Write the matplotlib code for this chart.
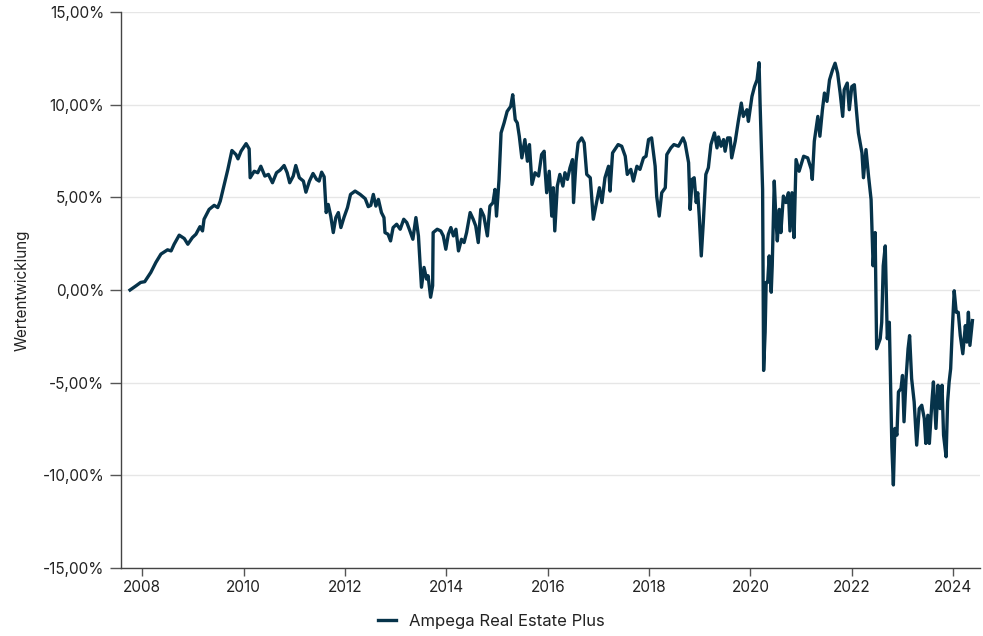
import matplotlib
matplotlib.use("Agg")
import matplotlib.pyplot as plt
from matplotlib.ticker import FuncFormatter

plt.rcParams['font.family'] = ['Inter', 'DejaVu Sans']

# Zeitachse (Dezimaljahre) und Wertentwicklung in %
jahre = [
    2007.76, 2007.88, 2007.97, 2008.05, 2008.17, 2008.27, 2008.37, 2008.50, 2008.57, 2008.63,
    2008.73, 2008.83, 2008.90, 2008.99, 2009.06, 2009.14, 2009.19, 2009.22, 2009.32, 2009.42,
    2009.49, 2009.54, 2009.62, 2009.69, 2009.77, 2009.85, 2009.89, 2009.95, 2010.05, 2010.11,
    2010.13, 2010.21, 2010.28, 2010.34, 2010.42, 2010.49, 2010.57, 2010.65, 2010.72, 2010.80,
    2010.86, 2010.91, 2010.98, 2011.03, 2011.10, 2011.18, 2011.23, 2011.30, 2011.37, 2011.44,
    2011.49, 2011.54, 2011.59, 2011.63, 2011.67, 2011.72, 2011.77, 2011.82, 2011.87, 2011.92,
    2011.98, 2012.05, 2012.11, 2012.20, 2012.30, 2012.40, 2012.46, 2012.51, 2012.56, 2012.61,
    2012.66, 2012.72, 2012.77, 2012.79, 2012.85, 2012.90, 2012.95, 2013.02, 2013.09, 2013.16,
    2013.22, 2013.27, 2013.34, 2013.40, 2013.45, 2013.48, 2013.51, 2013.56, 2013.61, 2013.64,
    2013.69, 2013.73, 2013.74, 2013.82, 2013.89, 2013.94, 2013.99, 2014.04, 2014.09, 2014.14,
    2014.19, 2014.24, 2014.30, 2014.35, 2014.40, 2014.47, 2014.53, 2014.58, 2014.63, 2014.68,
    2014.74, 2014.81, 2014.86, 2014.92, 2014.96, 2014.99, 2015.04, 2015.08, 2015.14, 2015.20,
    2015.27, 2015.31, 2015.36, 2015.40, 2015.44, 2015.49, 2015.55, 2015.60, 2015.64, 2015.69,
    2015.75, 2015.82, 2015.88, 2015.93, 2015.95, 2015.98, 2016.03, 2016.08, 2016.11, 2016.14,
    2016.19, 2016.24, 2016.30, 2016.34, 2016.39, 2016.44, 2016.49, 2016.51, 2016.56, 2016.60,
    2016.67, 2016.72, 2016.77, 2016.84, 2016.90, 2016.95, 2017.02, 2017.07, 2017.13, 2017.20,
    2017.23, 2017.28, 2017.39, 2017.46, 2017.53, 2017.57, 2017.64, 2017.69, 2017.76, 2017.82,
    2017.89, 2017.94, 2017.99, 2018.05, 2018.12, 2018.15, 2018.20, 2018.25, 2018.32, 2018.35,
    2018.43, 2018.49, 2018.58, 2018.67, 2018.71, 2018.78, 2018.81, 2018.85, 2018.89, 2018.93,
    2018.96, 2018.99, 2019.03, 2019.07, 2019.12, 2019.17, 2019.22, 2019.29, 2019.34, 2019.37,
    2019.42, 2019.47, 2019.50, 2019.55, 2019.60, 2019.63, 2019.70, 2019.76, 2019.82, 2019.86,
    2019.93, 2019.96, 2020.03, 2020.08, 2020.13, 2020.17, 2020.19, 2020.21, 2020.24, 2020.26,
    2020.29, 2020.31, 2020.34, 2020.37, 2020.41, 2020.43, 2020.47, 2020.50, 2020.53, 2020.57,
    2020.60, 2020.65, 2020.70, 2020.75, 2020.78, 2020.82, 2020.86, 2020.90, 2020.96, 2021.05,
    2021.13, 2021.20, 2021.22, 2021.26, 2021.33, 2021.37, 2021.42, 2021.46, 2021.51, 2021.56,
    2021.62, 2021.67, 2021.72, 2021.77, 2021.82, 2021.85, 2021.91, 2021.95, 2022.00, 2022.05,
    2022.09, 2022.13, 2022.20, 2022.23, 2022.28, 2022.33, 2022.38, 2022.42, 2022.46, 2022.49,
    2022.56, 2022.59, 2022.62, 2022.66, 2022.70, 2022.74, 2022.79, 2022.82, 2022.85, 2022.89,
    2022.92, 2022.97, 2023.00, 2023.03, 2023.07, 2023.11, 2023.14, 2023.18, 2023.23, 2023.28,
    2023.33, 2023.38, 2023.43, 2023.46, 2023.50, 2023.53, 2023.58, 2023.61, 2023.66, 2023.70,
    2023.74, 2023.78, 2023.81, 2023.86, 2023.89, 2023.92, 2023.95, 2023.98, 2024.02, 2024.06,
    2024.10, 2024.14, 2024.19, 2024.24, 2024.27, 2024.30, 2024.33, 2024.38,
]

wertentwicklung = [
    0.00, 0.23, 0.41, 0.45, 0.95, 1.49, 1.94, 2.17, 2.11, 2.47,
    2.96, 2.78, 2.47, 2.83, 3.01, 3.42, 3.19, 3.82, 4.35, 4.57,
    4.45, 4.80, 5.70, 6.51, 7.53, 7.31, 7.08, 7.49, 7.90, 7.62,
    6.06, 6.41, 6.33, 6.68, 6.15, 6.24, 5.79, 6.33, 6.47, 6.72,
    6.33, 5.79, 6.15, 6.72, 6.06, 5.88, 5.28, 5.88, 6.29, 5.97,
    5.88, 6.36, 6.11, 4.18, 4.62, 3.99, 3.10, 3.91, 4.18, 3.37,
    3.91, 4.45, 5.16, 5.34, 5.16, 4.93, 4.50, 4.57, 5.16, 4.53,
    4.89, 4.18, 3.91, 3.10, 3.01, 2.65, 3.37, 3.55, 3.28, 3.82,
    3.64, 3.28, 2.74, 3.91, 2.92, 1.58, 0.15, 1.22, 0.59, 0.77,
    -0.39, 0.23, 3.10, 3.28, 3.19, 2.92, 2.20, 3.01, 3.37, 2.92,
    3.28, 2.11, 2.74, 2.56, 3.10, 4.18, 3.82, 3.46, 2.56, 4.35,
    3.99, 2.92, 4.53, 4.71, 5.43, 3.99, 5.97, 8.48, 9.02, 9.64,
    9.91, 10.54, 9.19, 9.02, 8.30, 7.13, 8.12, 6.95, 7.85, 5.70,
    6.33, 6.15, 7.31, 7.49, 6.41, 5.25, 6.41, 3.99, 5.52, 3.19,
    5.61, 6.24, 5.61, 6.33, 5.97, 6.60, 7.04, 4.72, 6.95, 7.94,
    8.21, 7.94, 6.24, 6.06, 3.82, 4.53, 5.52, 4.72, 6.06, 6.68,
    5.34, 7.40, 7.85, 7.76, 7.22, 6.24, 6.51, 5.88, 6.68, 6.51,
    7.13, 7.22, 8.12, 8.21, 6.68, 5.07, 3.99, 5.25, 5.52, 7.31,
    7.67, 7.85, 7.76, 8.21, 7.94, 6.87, 4.35, 5.97, 6.06, 4.72,
    5.25, 3.99, 1.84, 3.64, 6.24, 6.60, 7.85, 8.48, 7.67, 8.26,
    7.76, 8.12, 7.49, 8.21, 8.21, 7.13, 8.03, 9.10, 10.09, 9.37,
    9.73, 9.10, 10.45, 10.98, 11.34, 12.27, 10.09, 8.30, 5.43, -4.34,
    -2.27, 0.41, 0.41, 1.84, -0.12, 1.31, 5.88, 3.99, 2.65, 4.35,
    3.10, 5.07, 4.72, 5.25, 3.19, 5.25, 2.83, 7.04, 6.41, 7.22,
    7.13, 6.51, 5.97, 8.03, 9.37, 8.30, 9.73, 10.63, 10.18, 11.34,
    11.88, 12.24, 11.70, 10.63, 9.37, 10.81, 11.17, 9.73, 10.98, 11.08,
    9.73, 8.48, 7.40, 6.06, 7.58, 6.15, 4.89, 1.31, 3.10, -3.17,
    -2.63, -1.74, 1.31, 2.38, -2.63, -1.74, -8.46, -10.52, -7.47, -7.83,
    -5.50, -5.32, -4.61, -7.11, -4.78, -3.17, -2.46, -4.78, -6.04, -8.37,
    -6.40, -6.22, -6.94, -8.28, -6.76, -8.28, -6.04, -4.96, -7.47, -5.14,
    -6.40, -5.14, -7.83, -9.00, -6.04, -4.96, -4.25, -2.27, -0.04, -1.20,
    -1.20, -2.46, -3.44, -1.92, -2.81, -1.20, -2.99, -1.65,
]

x_ticks = [2008, 2010, 2012, 2014, 2016, 2018, 2020, 2022, 2024]
y_ticks = [-15, -10, -5, 0, 5, 10, 15]

farbe = '#06334a'

fig = plt.figure(figsize=(9.83, 6.36), dpi=100)
ax = fig.add_axes([0.123, 0.107, 0.874, 0.874])

ax.plot(jahre, wertentwicklung, color=farbe, linewidth=2.4,
        solid_joinstyle='round', label='Ampega Real Estate Plus')

ax.set_xlim(2007.58, 2024.53)
ax.set_ylim(-15, 15)
ax.set_xticks(x_ticks)
ax.set_yticks(y_ticks)
ax.yaxis.set_major_formatter(FuncFormatter(lambda v, p: f'{v:.2f}'.replace('.', ',') + '%'))

ax.grid(axis='y', color='#e6e6e6', linewidth=1)
ax.set_axisbelow(True)
for s in ['top', 'right']:
    ax.spines[s].set_visible(False)
for s in ['left', 'bottom']:
    ax.spines[s].set_color('#444444')
    ax.spines[s].set_linewidth(1)
ax.tick_params(axis='both', colors='#555555', labelcolor='#222222',
               labelsize=11, width=1)
ax.tick_params(axis='y', length=8, pad=4)
ax.tick_params(axis='x', length=6, pad=3)

ax.set_ylabel('Wertentwicklung', fontsize=11, color='#222222', labelpad=9)

fig.legend(loc='lower center', bbox_to_anchor=(0.5, -0.012), frameon=False,
           fontsize=12, handlelength=1.1, labelcolor='#222222')

fig.savefig('out.png', dpi=100)
